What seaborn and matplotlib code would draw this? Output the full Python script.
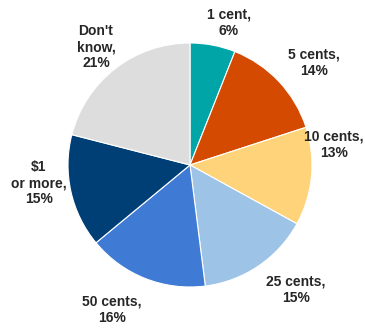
import matplotlib
matplotlib.use("Agg")
import matplotlib.pyplot as plt
import seaborn as sns

# Share of respondents by smallest coin/bill worth picking up
categories = ["1 cent", "5 cents", "10 cents", "25 cents", "50 cents", "$1\nor more", "Don't\nknow"]
shares = [6, 14, 13, 15, 16, 15, 21]
slice_colors = ["#00A5A8", "#D44A00", "#FFD37A", "#9DC3E6", "#3F7BD4", "#003F75", "#DDDDDD"]

# Label anchor points (pixel coordinates, origin bottom-left)
label_xy = [(229, 306), (314, 266), (334, 184), (296, 39), (112, 19), (39, 146), (96, 282)]

sns.set_theme(style="white")
plt.rcParams["font.family"] = ["Liberation Sans", "DejaVu Sans"]

fig = plt.figure(figsize=(3.65, 3.29), dpi=100)
ax = fig.add_axes([0, 0, 1, 1])

palette = sns.color_palette(slice_colors)
ax.pie(shares, colors=palette, startangle=90, counterclock=False,
       center=(190, 164), radius=122, frame=True,
       wedgeprops=dict(edgecolor="white", linewidth=0.8))
ax.set_xlim(0, 365)
ax.set_ylim(0, 329)
ax.set_aspect("auto")
ax.set_axis_off()

for name, val, (x, y) in zip(categories, shares, label_xy):
    ax.text(x, y, f"{name},\n{val}%", ha="center", va="center",
            fontsize=10, fontweight="bold", color="#262626", linespacing=1.2)

fig.savefig("out.png", dpi=100)
